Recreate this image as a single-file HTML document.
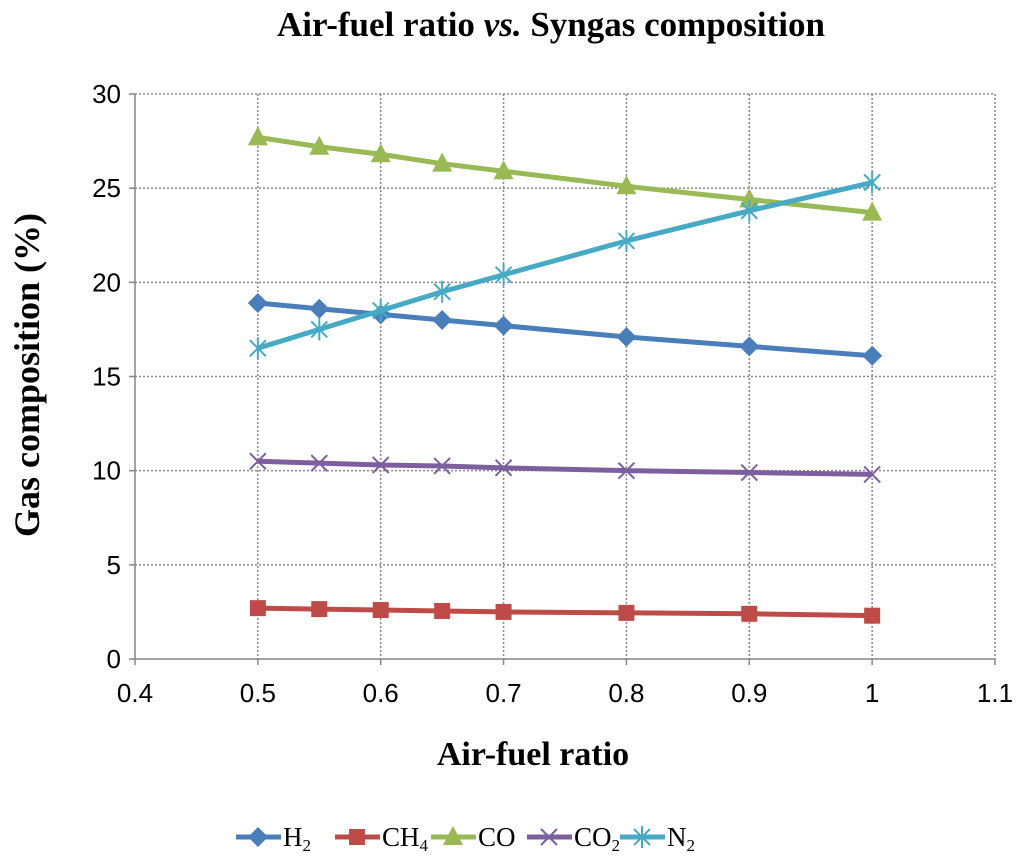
<!DOCTYPE html>
<html><head><meta charset="utf-8"><style>
body{margin:0;background:#fff}
svg text{font-family:"Liberation Sans",sans-serif}
</style></head><body>
<svg id="chart" width="1024" height="862" viewBox="0 0 1024 862" xmlns="http://www.w3.org/2000/svg">
<text x="551" y="36" font-size="35" text-anchor="middle" style="font-family:'Liberation Serif',serif;font-weight:bold">Air-fuel ratio <tspan font-style="italic">vs.</tspan> Syngas composition</text>
<g id="grid"></g>
<g id="axes"></g>
<g id="series"></g>
<text x="533" y="765" font-size="34" text-anchor="middle" style="font-family:'Liberation Serif',serif;font-weight:bold">Air-fuel ratio</text>
<text transform="translate(39,375) rotate(-90)" font-size="36" text-anchor="middle" style="font-family:'Liberation Serif',serif;font-weight:bold">Gas composition (%)</text>
<g id="legend"></g>
</svg>
<script>
const xCats=[0.5,0.55,0.6,0.65,0.7,0.8,0.9,1.0];
const h2=[18.9,18.6,18.3,18.0,17.7,17.1,16.6,16.1];
const ch4=[2.7,2.65,2.6,2.55,2.5,2.45,2.4,2.3];
const co=[27.7,27.2,26.8,26.3,25.9,25.1,24.4,23.7];
const co2=[10.5,10.4,10.3,10.25,10.15,10.0,9.9,9.8];
const n2=[16.5,17.5,18.5,19.5,20.4,22.2,23.8,25.3];
const xTicks=[0.4,0.5,0.6,0.7,0.8,0.9,1,1.1];
const yTicks=[0,5,10,15,20,25,30];
const seriesNames=["H2","CH4","CO","CO2","N2"];

const NS="http://www.w3.org/2000/svg";
const X0=135,X1=995,Y0=659,Y1=94;
const xs=v=>X0+(v-0.4)/0.7*(X1-X0);
const ys=v=>Y0-v/30*(Y0-Y1);
function mk(tag,attrs,parent){const e=document.createElementNS(NS,tag);for(const k in attrs)e.setAttribute(k,attrs[k]);parent.appendChild(e);return e;}
const grid=document.getElementById('grid'),axes=document.getElementById('axes'),ser=document.getElementById('series'),leg=document.getElementById('legend');
yTicks.forEach(t=>{
  if(t>0){const l=mk('line',{x1:X0,x2:X1,y1:ys(t),y2:ys(t),stroke:'#888','stroke-dasharray':'2,2','stroke-width':1.5},grid);
  }
  const tk=mk('line',{x1:X0-6,x2:X0,y1:ys(t),y2:ys(t),stroke:'#868686','stroke-width':1.5},axes);
  
  const tx=mk('text',{x:X0-14,y:ys(t)+9,'font-size':26,'text-anchor':'end'},axes);tx.textContent=t;
  
});
xTicks.forEach(t=>{
  if(t>0.4){const l=mk('line',{x1:xs(t),x2:xs(t),y1:Y1,y2:Y0,stroke:'#888','stroke-dasharray':'2,2','stroke-width':1.5},grid);
  }
  const tk=mk('line',{x1:xs(t),x2:xs(t),y1:Y0,y2:Y0+6,stroke:'#868686','stroke-width':1.5},axes);
  
  const tx=mk('text',{x:xs(t),y:Y0+43,'font-size':26,'text-anchor':'middle'},axes);tx.textContent=t;
  
});
const ax=mk('path',{d:`M${X0} ${Y1}V${Y0}H${X1}`,fill:'none',stroke:'#868686','stroke-width':1.5},axes);


const defs=[
 {d:h2,c:'#4a7ebb',m:'diamond',label:'H',sub:'2'},
 {d:ch4,c:'#be4b48',m:'square',label:'CH',sub:'4'},
 {d:co,c:'#98b954',m:'triangle',label:'CO',sub:''},
 {d:co2,c:'#7d5fa0',m:'x',label:'CO',sub:'2'},
 {d:n2,c:'#46aac5',m:'star',label:'N',sub:'2'}];
function marker(type,x,y,c,p){
  let e;
  if(type==='diamond')e=mk('path',{d:`M${x} ${y-10}L${x+10} ${y}L${x} ${y+10}L${x-10} ${y}Z`,fill:c},p);
  else if(type==='square')e=mk('rect',{x:x-8,y:y-8,width:16,height:16,fill:c},p);
  else if(type==='triangle')e=mk('path',{d:`M${x} ${y-11}L${x+10} ${y+8}L${x-10} ${y+8}Z`,fill:c},p);
  else if(type==='x')e=mk('path',{d:`M${x-8} ${y-8}L${x+8} ${y+8}M${x+8} ${y-8}L${x-8} ${y+8}`,stroke:c,'stroke-width':2},p);
  else e=mk('path',{d:`M${x-8} ${y-8}L${x+8} ${y+8}M${x+8} ${y-8}L${x-8} ${y+8}M${x} ${y-11}V${y+11}`,stroke:c,'stroke-width':2},p);
  return e;
}
defs.forEach((s,i)=>{
  const g=mk('g',{},ser);
  
  
  const pts=xCats.map((v,j)=>xs(v)+','+ys(s.d[j])).join(' ');
  const pl=mk('polyline',{points:pts,fill:'none',stroke:s.c,'stroke-width':5,'stroke-linejoin':'round'},g);
  
  xCats.forEach((v,j)=>{const m=marker(s.m,xs(v),ys(s.d[j]),s.c,g);
    });
  const lx=[236,335,431,527,620][i],ly=837;
  const lg=mk('g',{},leg);
  
  
  mk('line',{x1:lx,x2:lx+45,y1:ly,y2:ly,stroke:s.c,'stroke-width':5},lg);
  marker(s.m,lx+22,ly,s.c,lg);
  const t=mk('text',{x:lx+47,y:ly+9,'font-size':27,style:"font-family:'Liberation Serif',serif"},lg);
  t.textContent=s.label;
  if(s.sub){const ts=mk('tspan',{'font-size':17,dy:5},t);ts.textContent=s.sub;}
});
</script>
</body></html>
